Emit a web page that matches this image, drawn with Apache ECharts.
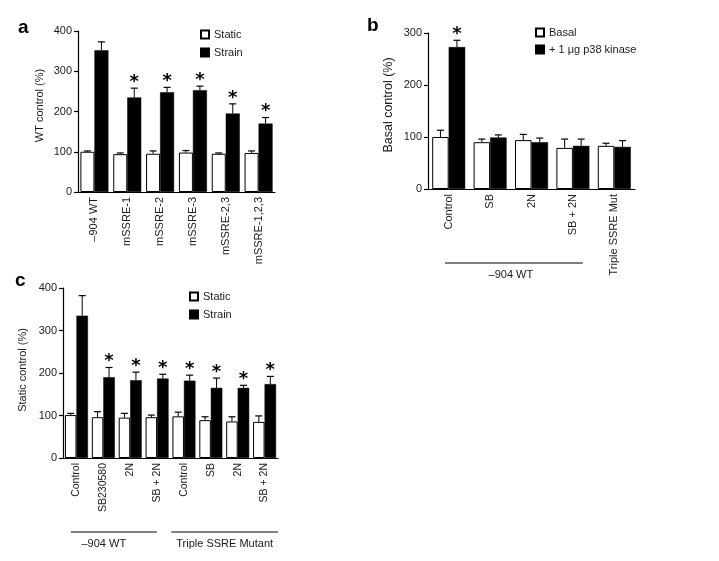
<!DOCTYPE html>
<html><head><meta charset="utf-8">
<script src="https://cdn.jsdelivr.net/npm/echarts@6/dist/echarts.min.js"></script>
<style>html,body{margin:0;padding:0;background:#fff}#c{width:719px;height:561px}</style>
</head><body><div id="c"></div><script>
// ---------- Panel a ----------
const aCats = ['–904 WT', 'mSSRE-1', 'mSSRE-2', 'mSSRE-3', 'mSSRE-2,3', 'mSSRE-1,2,3'];
const aStatic = [100, 94, 95, 98, 95, 97];
const aStaticErr = [2, 3, 7, 5, 2, 5];
const aStrain = [352, 235, 248, 253, 195, 170];
const aStrainErr = [21, 23, 12, 10, 24, 15];
const aStar = [0, 1, 1, 1, 1, 1];
const aTicks = [0, 100, 200, 300, 400];

// ---------- Panel b ----------
const bCats = ['Control', 'SB', '2N', 'SB + 2N', 'Triple SSRE Mut'];
const bBasal = [100, 90, 94, 79, 83];
const bBasalErr = [13, 6, 11, 17, 5];
const bKinase = [273, 99, 90, 83, 81];
const bKinaseErr = [13, 5, 8, 13, 12];
const bStar = [1, 0, 0, 0, 0];
const bTicks = [0, 100, 200, 300];
const bGroups = [[0, 3, '–904 WT']];

// ---------- Panel c ----------
const cCats = ['Control', 'SB230580', '2N', 'SB + 2N', 'Control', 'SB', '2N', 'SB + 2N'];
const cStatic = [101, 96, 95, 96, 98, 89, 86, 85];
const cStaticErr = [4, 13, 10, 5, 10, 8, 11, 14];
const cStrain = [335, 190, 183, 187, 182, 165, 165, 174];
const cStrainErr = [47, 23, 19, 10, 13, 23, 6, 18];
const cStar = [0, 1, 1, 1, 1, 1, 1, 1];
const cTicks = [0, 100, 200, 300, 400];
const cGroups = [[0, 3, '–904 WT'], [4, 7, 'Triple SSRE Mutant']];

const FONT = "'Liberation Sans', Arial, sans-serif";
const TXT = '#1a1a1a';

function xAxis(idx, cats, fs) {
  return {
    type: 'category', gridIndex: idx, data: cats,
    axisLine: {lineStyle: {color: '#000', width: 1.2}},
    axisTick: {show: false},
    axisLabel: {rotate: 90, margin: 5, fontSize: fs, color: TXT, fontFamily: FONT, interval: 0}
  };
}
function yAxis(idx, ticks, name, gap, nfs, npad) {
  return {
    type: 'value', gridIndex: idx, min: ticks[0], max: ticks[ticks.length - 1],
    interval: ticks[1] - ticks[0],
    name: name, nameLocation: 'middle', nameGap: gap,
    nameTextStyle: {fontSize: nfs, color: TXT, fontFamily: FONT, padding: npad},
    axisLine: {show: true, lineStyle: {color: '#000', width: 1.2}},
    axisTick: {show: true, inside: false, length: 4, lineStyle: {color: '#000', width: 1.2}},
    axisLabel: {margin: 6, fontSize: 11, color: TXT, fontFamily: FONT},
    splitLine: {show: false}
  };
}
function bar(idx, name, vals, white, bw) {
  return {
    type: 'bar', name: name, xAxisIndex: idx, yAxisIndex: idx, data: vals,
    barWidth: bw, barGap: '0%',
    itemStyle: white ? {color: '#fff', borderColor: '#000', borderWidth: 1} : {color: '#000', borderColor: '#000', borderWidth: 0.5},
    emphasis: {disabled: true}, animation: false
  };
}
function err(idx, vals, errs, stars, side, bw) {
  return {
    type: 'custom', xAxisIndex: idx, yAxisIndex: idx, z: 5, silent: true, animation: false,
    data: vals.map((v, i) => [i, v, errs[i], stars ? stars[i] : 0]),
    renderItem: function (params, api) {
      const i = api.value(0), v = api.value(1), e = api.value(2), s = api.value(3);
      const p0 = api.coord([i, v]);
      const p1 = api.coord([i, v + e]);
      const x = p0[0] + side * bw / 2;
      const cap = 3.5;
      const ch = [
        {type: 'line', shape: {x1: x, y1: p0[1], x2: x, y2: p1[1]}, style: {stroke: '#000', lineWidth: 1}},
        {type: 'line', shape: {x1: x - cap, y1: p1[1], x2: x + cap, y2: p1[1]}, style: {stroke: '#000', lineWidth: 1.2}}
      ];
      if (s) ch.push({type: 'text', x: x, y: p1[1] + 3,
        style: {text: '*', font: "bold 18px 'DejaVu Sans'", fill: '#000', align: 'center', verticalAlign: 'bottom'}});
      return {type: 'group', children: ch};
    }
  };
}
function brackets(idx, groups, padL, padR, textShift) {
  return {
    type: 'custom', xAxisIndex: idx, yAxisIndex: idx, silent: true, animation: false, clip: false,
    data: groups.map(g => [g[0], g[1]]),
    renderItem: function (params, api) {
      const k = params.dataIndex;
      const g = groups[k];
      const w = api.size([1, 0])[0];
      const y0 = api.coord([0, 0])[1];
      const x1 = api.coord([api.value(0), 0])[0] - w / 2 + padL[k] * w;
      const x2 = api.coord([api.value(1), 0])[0] + w / 2 - padR[k] * w;
      return {type: 'group', children: [
        {type: 'line', shape: {x1: x1, y1: y0 + 74, x2: x2, y2: y0 + 74}, style: {stroke: '#000', lineWidth: 1}},
        {type: 'text', x: (x1 + x2) / 2 + textShift[k], y: y0 + 86,
          style: {text: g[2], font: '11px ' + FONT, fill: TXT, align: 'center', verticalAlign: 'middle'}}
      ]};
    }
  };
}
function legend(left, top, names, gap) {
  return {
    left: left, top: top, orient: 'vertical', icon: 'rect', itemWidth: 8, itemHeight: 8,
    itemGap: gap, padding: 0, itemTextGap: 5, selectedMode: false, data: names,
    textStyle: {fontSize: 11, color: TXT, fontFamily: FONT}
  };
}
function title(t, left, top) {
  return {text: t, left: left, top: top, padding: 0,
    textStyle: {fontSize: 19, fontWeight: 'bold', color: '#000', fontFamily: FONT}};
}

const chart = echarts.init(document.getElementById('c'), null, {renderer: 'canvas'});
chart.setOption({
  backgroundColor: '#fff',
  animation: false,
  title: [title('a', 18, 18), title('b', 367, 16), title('c', 15, 271)],
  grid: [
    {left: 78, top: 31, width: 197, height: 161, outerBoundsMode: 'none'},
    {left: 428, top: 33, width: 207, height: 156, outerBoundsMode: 'none'},
    {left: 63, top: 288, width: 215, height: 170, outerBoundsMode: 'none'}
  ],
  xAxis: [xAxis(0, aCats, 11), xAxis(1, bCats, 11), xAxis(2, cCats, 10.5)],
  yAxis: [
    yAxis(0, aTicks, 'WT control (%)', 33, 11, [0, 0, 0, 12]),
    yAxis(1, bTicks, 'Basal control (%)', 33, 12.5, [0, 0, 0, 12]),
    yAxis(2, cTicks, 'Static control (%)', 35, 11, [0, 0, 0, 6])
  ],
  legend: [
    legend(200, 29, ['Static', 'Strain'], 7),
    legend(535, 27, ['Basal', '+ 1 μg p38 kinase'], 6),
    legend(189, 291, ['Static', 'Strain'], 7)
  ],
  series: [
    bar(0, 'Static', aStatic, true, 14), bar(0, 'Strain', aStrain, false, 14),
    err(0, aStatic, aStaticErr, null, -1, 14), err(0, aStrain, aStrainErr, aStar, 1, 14),
    bar(1, 'Basal', bBasal, true, 16.5), bar(1, '+ 1 μg p38 kinase', bKinase, false, 16.5),
    err(1, bBasal, bBasalErr, null, -1, 16.5), err(1, bKinase, bKinaseErr, bStar, 1, 16.5),
    brackets(1, bGroups, [0.41], [0.26], [-3]),
    bar(2, 'Static', cStatic, true, 11.5), bar(2, 'Strain', cStrain, false, 11.5),
    err(2, cStatic, cStaticErr, null, -1, 11.5), err(2, cStrain, cStrainErr, cStar, 1, 11.5),
    brackets(2, cGroups, [0.29, 0.03], [0.51, 0], [-10, 0])
  ]
});
</script></body></html>
